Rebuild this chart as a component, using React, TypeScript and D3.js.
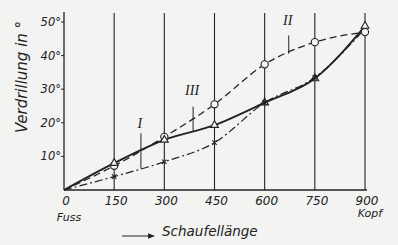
import React from "react";
import * as d3 from "d3";

// blade length positions (mm) and twist angles (deg)
const positions = [0, 150, 300, 450, 600, 750, 900];
const curveI = [0, 4, 8.4, 14.1, 26, 33.5, 48];
const curveII = [0, 7.2, 15.8, 25.5, 37.4, 44, 47];
const curveIII = [0, 8, 14.9, 19.3, 26, 33.2, 48.8];
const xTicks = [0, 150, 300, 450, 600, 750, 900];
const yTicks = [10, 20, 30, 40, 50];

// curve labels: name, x position of leader, label height, leader top
const labelNames = ["I", "II", "III"];
const labelAt = [230, 672, 386];
const labelY = [18.5, 49, 28.3];
const leaderTop = [16.9, 46, 24.8];

const W = 398;
const H = 245;
const ink = "#222";
const bg = "#f3f3f1";
const font = "'DejaVu Sans', sans-serif";

export default function App() {
  const x = d3.scaleLinear().domain([0, 900]).range([64, 365]);
  const y = d3.scaleLinear().domain([0, 50]).range([190, 22]);

  const line = d3
    .line<number>()
    .x((_, i) => x(positions[i]))
    .y((d) => y(d))
    .curve(d3.curveMonotoneX);

  const series = [curveI, curveII, curveIII];
  const valueAt = (vals: number[], p: number) =>
    d3.scaleLinear().domain(positions).range(vals)(p);

  const tri = d3.symbol().type(d3.symbolTriangle).size(26)();

  return (
    <svg width={W} height={H} style={{ position: "absolute", left: 0, top: 0, background: bg }}>
      <rect width={W} height={H} fill={bg} />
      {/* vertical grid lines */}
      {xTicks.slice(1).map((t) => (
        <line key={t} x1={x(t)} x2={x(t)} y1={y(0)} y2={13} stroke={ink} strokeWidth={1.1} />
      ))}
      {/* axes */}
      <line x1={x(0)} x2={x(0)} y1={y(0)} y2={12} stroke={ink} strokeWidth={1.3} />
      <line x1={x(0)} x2={x(900) + 2} y1={y(0)} y2={y(0)} stroke={ink} strokeWidth={1.3} />
      {yTicks.map((t) => (
        <g key={t}>
          <line x1={x(0) - 3} x2={x(0)} y1={y(t)} y2={y(t)} stroke={ink} strokeWidth={1} />
          <text x={x(0) - 3} y={y(t)} dy="0.35em" textAnchor="end" fontFamily={font} fontStyle="italic" fontSize={11.5} fill={ink}>
            {t}°
          </text>
        </g>
      ))}
      {xTicks.map((t) => (
        <text key={t} x={x(t) + 2} y={205} textAnchor="middle" fontFamily={font} fontStyle="italic" fontSize={12} fill={ink}>
          {t}
        </text>
      ))}
      <text x={x(0) + 5} y={221} textAnchor="middle" fontFamily={font} fontStyle="italic" fontSize={11} fill={ink}>
        Fuss
      </text>
      <text x={x(900) + 5} y={217} textAnchor="middle" fontFamily={font} fontStyle="italic" fontSize={11} fill={ink}>
        Kopf
      </text>
      {/* axis titles */}
      <text
        transform={`translate(27,77) rotate(-90)`}
        textAnchor="middle"
        fontFamily={font}
        fontStyle="italic"
        fontSize={15}
        fill={ink}
      >
        Verdrillung in °
      </text>
      <line x1={122} x2={150} y1={236} y2={236} stroke={ink} strokeWidth={1} />
      <path d="M155,236 L148,233.3 L148,238.7 Z" fill={ink} />
      <text x={162} y={236} fontFamily={font} fontStyle="italic" fontSize={13.5} fill={ink}>
        Schaufellänge
      </text>

      {/* curves */}
      <path d={line(curveI) || ""} fill="none" stroke={ink} strokeWidth={1.2} strokeDasharray="8,3,2,3" />
      <path d={line(curveII) || ""} fill="none" stroke={ink} strokeWidth={1.3} strokeDasharray="7,4" />
      <path d={line(curveIII) || ""} fill="none" stroke={ink} strokeWidth={1.9} />

      {/* markers */}
      {curveI.slice(1).map((v, i) => {
        const cx = x(positions[i + 1]);
        const cy = y(v);
        return (
          <path key={"c" + i} d={`M${cx - 2.2},${cy - 2.2}L${cx + 2.2},${cy + 2.2}M${cx - 2.2},${cy + 2.2}L${cx + 2.2},${cy - 2.2}`} stroke={ink} strokeWidth={1.1} />
        );
      })}
      {curveII.slice(1).map((v, i) => (
        <circle key={"o" + i} cx={x(positions[i + 1])} cy={y(v)} r={3.6} fill="#f7f7f5" stroke={ink} strokeWidth={1.1} />
      ))}
      {curveIII.slice(1).map((v, i) => (
        <path
          key={"t" + i}
          d={tri || ""}
          transform={`translate(${x(positions[i + 1])},${y(v)})`}
          fill={i === 3 || i === 4 ? "none" : "#f7f7f5"}
          stroke={ink}
          strokeWidth={1.1}
        />
      ))}

      {/* curve labels */}
      {labelNames.map((n, i) => (
        <g key={n}>
          <line
            x1={x(labelAt[i])}
            x2={x(labelAt[i])}
            y1={y(leaderTop[i])}
            y2={y(valueAt(series[i], labelAt[i]))}
            stroke={ink}
            strokeWidth={1}
          />
          <text x={x(labelAt[i]) - 1} y={y(labelY[i])} textAnchor="middle" fontFamily="'Liberation Serif', serif" fontStyle="italic" fontSize={14} fill={ink}>
            {n}
          </text>
        </g>
      ))}
    </svg>
  );
}
